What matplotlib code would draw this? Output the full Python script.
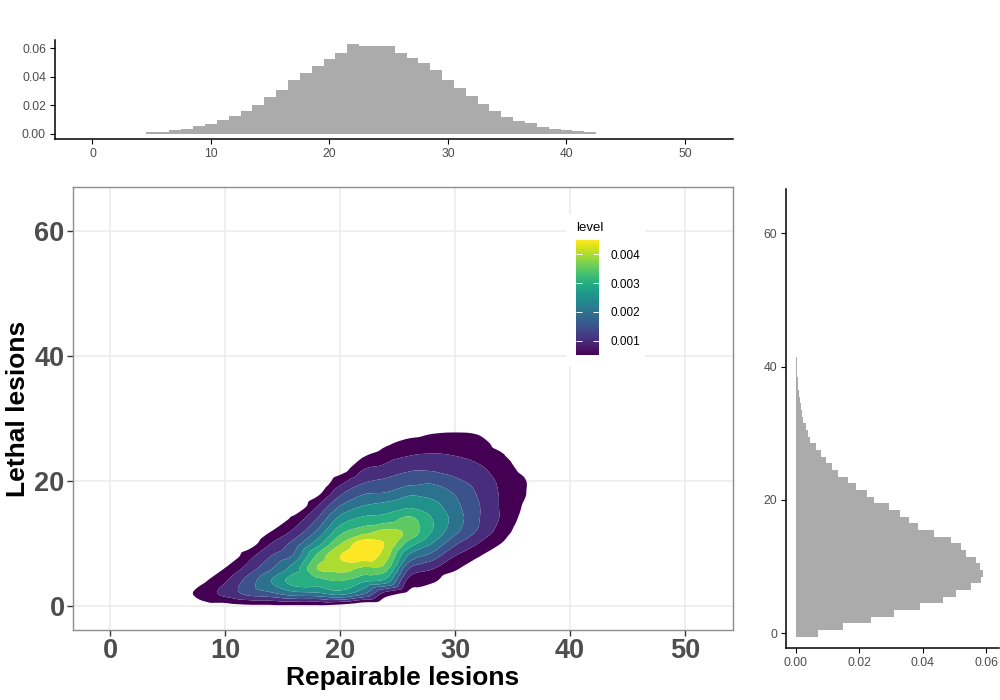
import numpy as np
import matplotlib.pyplot as plt
import matplotlib.tri as mtri
from matplotlib import cm
from matplotlib.colors import Normalize

plt.rcParams['font.family'] = ['Liberation Sans', 'DejaVu Sans']

# -----------------------------
# marginal histograms (bin width 1)
# -----------------------------
repair_bins = list(range(5, 43))
repair_density = [0.0012, 0.0012, 0.0028, 0.0037, 0.0053, 0.0069, 0.0097, 0.0125,
                  0.0159, 0.0205, 0.0256, 0.0305, 0.0380, 0.0429, 0.0478, 0.0526,
                  0.0568, 0.0630, 0.0616, 0.0616, 0.0616, 0.0568, 0.0533, 0.0494,
                  0.0450, 0.0374, 0.0318, 0.0268, 0.0208, 0.0157, 0.0122, 0.0090,
                  0.0076, 0.0048, 0.0035, 0.0028, 0.0021, 0.0014]

lethal_bins = list(range(0, 43))
lethal_density = [0.0069, 0.0149, 0.0238, 0.0310, 0.0392, 0.0465, 0.0506, 0.0553,
                  0.0584, 0.0590, 0.0580, 0.0569, 0.0537, 0.0520, 0.0489, 0.0436,
                  0.0386, 0.0357, 0.0329, 0.0294, 0.0247, 0.0224, 0.0190, 0.0164,
                  0.0132, 0.0114, 0.0095, 0.0079, 0.0063, 0.0045, 0.0039, 0.0032,
                  0.0024, 0.0020, 0.0016, 0.0013, 0.0011, 0.0008, 0.0006, 0.0005,
                  0.0004, 0.0003, 0.0002]

# -----------------------------
# 2D density (units of 1e-4), one list per x column
# -----------------------------
repair_grid = list(range(4, 42, 2))
lethal_grid = list(range(-2, 32, 2))
density_cols = [
    [0] * 17,                                                                       # x=4
    [0, 1, 2.5, 0, 0, 0, 0, 0, 0, 0, 0, 0, 0, 0, 0, 0, 0],                          # x=6
    [0, 3, 7, 4, 0, 0, 0, 0, 0, 0, 0, 0, 0, 0, 0, 0, 0],                            # x=8
    [0, 3, 11.5, 9.5, 5.2, 0, 0, 0, 0, 0, 0, 0, 0, 0, 0, 0, 0],                     # x=10
    [0, 4, 16.5, 17, 12, 8, 2, 0, 0, 0, 0, 0, 0, 0, 0, 0, 0],                       # x=12
    [0, 4, 19, 25, 19.5, 15, 10, 4.8, 0, 0, 0, 0, 0, 0, 0, 0, 0],                   # x=14
    [0, 4, 23, 32.5, 27.5, 21, 17, 11, 6.5, 0, 0, 0, 0, 0, 0, 0, 0],                # x=16
    [0, 4, 24, 33, 40, 36, 27.5, 20.5, 15, 9.8, 3.5, 0, 0, 0, 0, 0, 0],             # x=18
    [0, 3, 27, 35, 42, 45, 39.5, 33, 26.5, 20, 14, 8, 2, 0, 0, 0, 0],               # x=20
    [0, 0, 21, 31, 39, 47.5, 47.5, 37.5, 31, 25, 19.5, 14, 9.5, 4.5, 0, 0, 0],      # x=22
    [0, 0, 8, 28, 37, 42, 44.5, 41, 32, 27, 20.5, 16, 11.5, 8, 4, 0, 0],            # x=24
    [0, 0, 3.5, 8, 15, 24, 33, 38.5, 36, 29, 24, 18, 14, 10, 7, 2, 0],              # x=26
    [0, 0, 1, 6, 10.5, 18, 25, 30, 30, 27, 23, 19, 14, 10.5, 8, 4, 0],              # x=28
    [0, 0, 0, 1, 6, 10, 16, 21.5, 23, 21.5, 19.6, 16, 13, 10, 8, 4.5, 0],           # x=30
    [0, 0, 0, 0, 1, 5.5, 10, 14.5, 15.5, 15.5, 14.5, 13, 11, 8.5, 7, 4, 0],         # x=32
    [0, 0, 0, 0, 0, 1, 5, 8, 9.5, 9.5, 9.5, 9, 7.5, 5.8, 3, 0, 0],                  # x=34
    [0, 0, 0, 0, 0, 0, 0, 2, 3.5, 4.5, 5.5, 5.5, 3.5, 1, 0, 0, 0],                  # x=36
    [0] * 17,                                                                       # x=38
    [0] * 17,                                                                       # x=40
]
levels = [0.0005, 0.0010, 0.0015, 0.0020, 0.0025, 0.0030, 0.0035, 0.0040, 0.0045]
cbar_ticks = [0.001, 0.002, 0.003, 0.004]

hist_color = '#ababab'
tick_grey = '#4d4d4d'

fig = plt.figure(figsize=(10, 7), dpi=100)

# ---------- main density panel ----------
ax = fig.add_axes([0.073, 0.10, 0.66, 0.6329])
gx, gy = np.meshgrid(repair_grid, lethal_grid)
Z = np.array(density_cols, dtype=float).T * 1e-4
tri = mtri.Triangulation(gx.ravel(), gy.ravel())
refiner = mtri.UniformTriRefiner(tri)
interp = mtri.CubicTriInterpolator(tri, Z.ravel(), kind='geom')
tri_f, z_f = refiner.refine_field(Z.ravel(), triinterpolator=interp, subdiv=3)
colors = cm.viridis(np.linspace(0, 1, len(levels)))
ax.tricontourf(tri_f, z_f, levels=levels + [1.0], colors=colors,
               antialiased=True, zorder=2)
ax.set_xlim(-3.22, 54.17)
ax.set_ylim(-3.84, 67.0)
ax.set_xticks([0, 10, 20, 30, 40, 50])
ax.set_yticks([0, 20, 40, 60])
ax.grid(True, color='#ebebeb', linewidth=1.1, zorder=0)
ax.set_axisbelow(True)
for s in ax.spines.values():
    s.set_color('#8c8c8c')
    s.set_linewidth(1.0)
ax.tick_params(length=4, width=1, color='#333333', labelsize=19.5,
               labelcolor=tick_grey, pad=2)
for lab in ax.get_xticklabels() + ax.get_yticklabels():
    lab.set_fontweight('bold')
ax.set_xlabel('Repairable lesions', fontsize=19, fontweight='bold', labelpad=1)
ax.set_ylabel('Lethal lesions', fontsize=19, fontweight='bold', labelpad=3)

# legend (colour bar) inside the panel
leg_bg = fig.add_axes([0.566, 1 - 366 / 700, 0.079, 152 / 700])
leg_bg.set_facecolor('white')
leg_bg.set_xticks([])
leg_bg.set_yticks([])
for s in leg_bg.spines.values():
    s.set_visible(False)
leg_bg.text(0.13, 0.905, 'level', transform=leg_bg.transAxes, fontsize=9.5,
            va='center', ha='left')
cax = fig.add_axes([0.576, 1 - 355 / 700, 0.023, 115 / 700])
sm = cm.ScalarMappable(norm=Normalize(levels[0], levels[-1]), cmap='viridis')
cb = fig.colorbar(sm, cax=cax, ticks=cbar_ticks)
cb.outline.set_visible(False)
cax.tick_params(direction='in', color='white', length=4, width=0.7,
                left=True, right=True, labelsize=8.5, pad=8)
cax.set_yticklabels(['%.3f' % t for t in cbar_ticks])

# ---------- top marginal histogram ----------
axt = fig.add_axes([0.055, 1 - 139 / 700, 0.678, 99 / 700])
axt.bar(repair_bins, repair_density, width=1.0, color=hist_color, linewidth=0)
axt.set_xlim(-3.16, 54.05)
axt.set_ylim(-0.0035, 0.0656)
axt.set_xticks([0, 10, 20, 30, 40, 50])
axt.set_yticks([0.0, 0.02, 0.04, 0.06])
axt.set_yticklabels(['0.00', '0.02', '0.04', '0.06'])
for side in ['top', 'right']:
    axt.spines[side].set_visible(False)
for side in ['left', 'bottom']:
    axt.spines[side].set_linewidth(1.1)
axt.tick_params(length=3.5, width=0.8, labelsize=8.8, labelcolor=tick_grey, pad=3)

# ---------- right marginal histogram ----------
axr = fig.add_axes([0.786, 1 - 648 / 700, 0.213, 459 / 700])
axr.barh(lethal_bins, lethal_density, height=1.0, color=hist_color, linewidth=0)
axr.set_xlim(-0.00306, 0.0641)
axr.set_ylim(-2.2, 66.65)
axr.set_xticks([0.0, 0.02, 0.04, 0.06])
axr.set_xticklabels(['0.00', '0.02', '0.04', '0.06'])
axr.set_yticks([0, 20, 40, 60])
for side in ['top', 'right']:
    axr.spines[side].set_visible(False)
for side in ['left', 'bottom']:
    axr.spines[side].set_linewidth(1.1)
axr.tick_params(length=3.5, width=0.8, labelsize=8.8, labelcolor=tick_grey, pad=3)

fig.savefig('out.png', dpi=100)
